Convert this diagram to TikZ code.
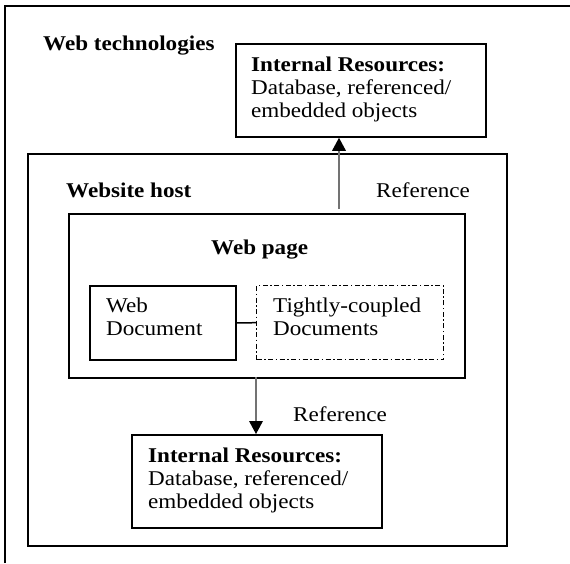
\documentclass[tikz,border=0pt]{standalone}
\usepackage{fontspec}
\setmainfont{Liberation Serif}[FakeStretch=1.1]
\usetikzlibrary{arrows.meta}
\tikzset{
  box/.style={draw=black, line width=1.8pt, inner sep=0pt, anchor=north west},
  lbl/.style={anchor=base west, inner sep=0pt, font=\fontsize{21}{23}\selectfont},
  blbl/.style={lbl, font=\fontsize{21}{23}\selectfont\bfseries},
  refarrow/.style={draw=black!55, line width=2.8pt,
    -{Triangle[length=13pt,width=14pt,line width=0pt,color=black]}},
}
\begin{document}
\begin{tikzpicture}[x=1pt,y=-1pt]
\useasboundingbox (0,0) rectangle (570,563);
% outer frame (only the left and top edges fall inside the page)
\draw[line width=1.8pt] (5,563) -- (5,6) -- (570,6);

% boxes
\node[box, minimum width=250pt, minimum height=93pt] (topres) at (235,43) {};
\node[box, minimum width=479pt, minimum height=392pt] (host) at (27,153) {};
\node[box, minimum width=396pt, minimum height=164pt] (page) at (68,213) {};
\node[box, minimum width=146pt, minimum height=74pt] (webdoc) at (89,285) {};
\node[box, line width=1.4pt, dash pattern=on 5pt off 2.5pt on 1.5pt off 2.5pt,
      minimum width=187pt, minimum height=74pt] (tight) at (256,285) {};
\node[box, minimum width=250pt, minimum height=93pt] (botres) at (131,434) {};

% labels
\node[blbl] (ltech) at (43,50) {Web technologies};
\node[blbl] (ltop1) at (251,71) {Internal Resources:};
\node[lbl] (ltop2) at (251,94) {Database, referenced/};
\node[lbl] (ltop3) at (251,117) {embedded objects};
\node[blbl] (lhost) at (66,197) {Website host};
\node[lbl] (lref1) at (376,197) {Reference};
\node[blbl] (lpage) at (211,254) {Web page};
\node[lbl] (ldoc1) at (106,312) {Web};
\node[lbl] (ldoc2) at (106,335) {Document};
\node[lbl] (ltc1) at (273,312) {Tightly-coupled};
\node[lbl] (ltc2) at (273,335) {Documents};
\node[lbl] (lref2) at (293,421) {Reference};
\node[blbl] (lbot1) at (148,462) {Internal Resources:};
\node[lbl] (lbot2) at (148,485) {Database, referenced/};
\node[lbl] (lbot3) at (148,508) {embedded objects};

% connectors
\draw[line width=1.5pt] (webdoc.east) -- (tight.west);
\coordinate (upstart) at (339,209);
\draw[refarrow] (upstart) -- (upstart |- topres.south);
\coordinate (downstart) at (256,377);
\draw[refarrow] (downstart) -- (downstart |- botres.north);
\end{tikzpicture}
\end{document}
